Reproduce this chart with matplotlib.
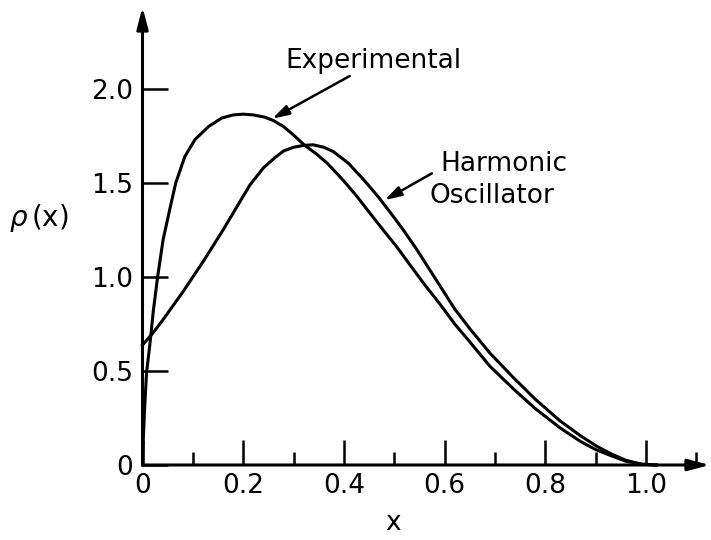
import matplotlib
matplotlib.use("Agg")
import matplotlib.pyplot as plt
from matplotlib.ticker import MultipleLocator

# ---- data ----
exp_x = [0.0, 0.001, 0.004, 0.008, 0.015, 0.0215, 0.030, 0.041, 0.055, 0.066,
         0.084, 0.104, 0.131, 0.157, 0.18, 0.20, 0.22, 0.243, 0.26, 0.28, 0.30,
         0.32, 0.345, 0.367, 0.40, 0.4255, 0.45, 0.478, 0.505, 0.531, 0.56,
         0.591, 0.62, 0.65, 0.69, 0.7365, 0.78, 0.829, 0.87, 0.90, 0.93, 0.96,
         0.99, 1.02]
exp_y = [0.0, 0.10, 0.29, 0.49, 0.65, 0.82, 1.00, 1.20, 1.37, 1.50,
         1.64, 1.73, 1.80, 1.845, 1.862, 1.866, 1.862, 1.850, 1.832, 1.80, 1.755,
         1.705, 1.655, 1.605, 1.51, 1.43, 1.345, 1.25, 1.16, 1.065, 0.96,
         0.855, 0.75, 0.655, 0.525, 0.405, 0.30, 0.198, 0.125, 0.082, 0.05, 0.02,
         0.004, 0.0]

ho_x = [0.0, 0.02, 0.04, 0.06, 0.08, 0.10, 0.12, 0.14, 0.16, 0.18, 0.20,
        0.2135, 0.24, 0.263, 0.28, 0.30, 0.32, 0.339, 0.36, 0.379, 0.409, 0.44,
        0.468, 0.493, 0.518, 0.545, 0.57, 0.595, 0.62, 0.65, 0.69, 0.7365, 0.78,
        0.829, 0.87, 0.902, 0.93, 0.96, 0.99, 1.02]
ho_y = [0.638, 0.70, 0.77, 0.845, 0.92, 1.00, 1.08, 1.165, 1.25, 1.34, 1.43,
        1.49, 1.58, 1.635, 1.67, 1.69, 1.70, 1.703, 1.69, 1.667, 1.605, 1.515,
        1.427, 1.34, 1.25, 1.145, 1.04, 0.935, 0.83, 0.725, 0.595, 0.465, 0.35,
        0.235, 0.155, 0.10, 0.06, 0.025, 0.005, 0.0]

x_ticks = [0, 0.2, 0.4, 0.6, 0.8, 1.0]
x_tick_labels = ["0", "0.2", "0.4", "0.6", "0.8", "1.0"]
y_ticks = [0, 0.5, 1.0, 1.5, 2.0]
y_tick_labels = ["0", "0.5", "1.0", "1.5", "2.0"]

XMAX, YMAX = 1.127, 2.436
FS = 19

fig = plt.figure(figsize=(7.11, 5.40), dpi=100)
ax = fig.add_axes([142.5 / 711, (540 - 465) / 540, (710 - 142.5) / 711, (465 - 7) / 540])
ax.set_xlim(0, XMAX)
ax.set_ylim(0, YMAX)
ax.patch.set_visible(False)
for s in ax.spines.values():
    s.set_visible(False)

# axes with arrow heads
arrow_kw = dict(arrowstyle="-|>,head_length=0.65,head_width=0.17", lw=2.2, color="k",
                shrinkA=0, shrinkB=0, mutation_scale=20)
ax.annotate("", xy=(0, 1), xytext=(0, 0), xycoords="axes fraction",
            textcoords="axes fraction", arrowprops=arrow_kw, annotation_clip=False)
ax.annotate("", xy=(1, 0), xytext=(0, 0), xycoords="axes fraction",
            textcoords="axes fraction", arrowprops=arrow_kw, annotation_clip=False)

ax.plot(exp_x, exp_y, color="k", lw=2.2, clip_on=False, solid_joinstyle="round")
ax.plot(ho_x, ho_y, color="k", lw=2.2, clip_on=False, solid_joinstyle="round")

ax.set_xticks(x_ticks)
ax.set_xticklabels(x_tick_labels)
ax.set_yticks(y_ticks)
ax.set_yticklabels(y_tick_labels)
ax.xaxis.set_minor_locator(MultipleLocator(0.1))
ax.tick_params(axis="both", which="major", direction="in", length=18, width=1.8,
               labelsize=FS, pad=7, top=False, right=False)
ax.tick_params(axis="x", which="minor", direction="in", length=9.5, width=1.8)
ax.tick_params(axis="x", which="major", pad=6)

ax.text(0.497, -0.1266, "x", fontsize=FS, ha="center", va="center",
        transform=ax.get_xaxis_transform())
ax.text(-0.205, 1.314, r"$\rho\,$(x)", fontsize=FS + 1, ha="center", va="center")

head_kw = dict(arrowstyle="-|>,head_length=0.5,head_width=0.15", lw=1.8, color="k",
               shrinkA=0, shrinkB=0, mutation_scale=20)
ax.annotate("", xy=(0.258, 1.842), xytext=(0.4115, 2.069), arrowprops=head_kw)
ax.text(0.459, 2.148, "Experimental", fontsize=FS, ha="center", va="center")

ax.annotate("", xy=(0.481, 1.409), xytext=(0.5746, 1.551), arrowprops=head_kw)
ax.text(0.718, 1.599, "Harmonic", fontsize=FS, ha="center", va="center")
ax.text(0.694, 1.43, "Oscillator", fontsize=FS, ha="center", va="center")

fig.savefig("out.png", dpi=100, facecolor="white")
